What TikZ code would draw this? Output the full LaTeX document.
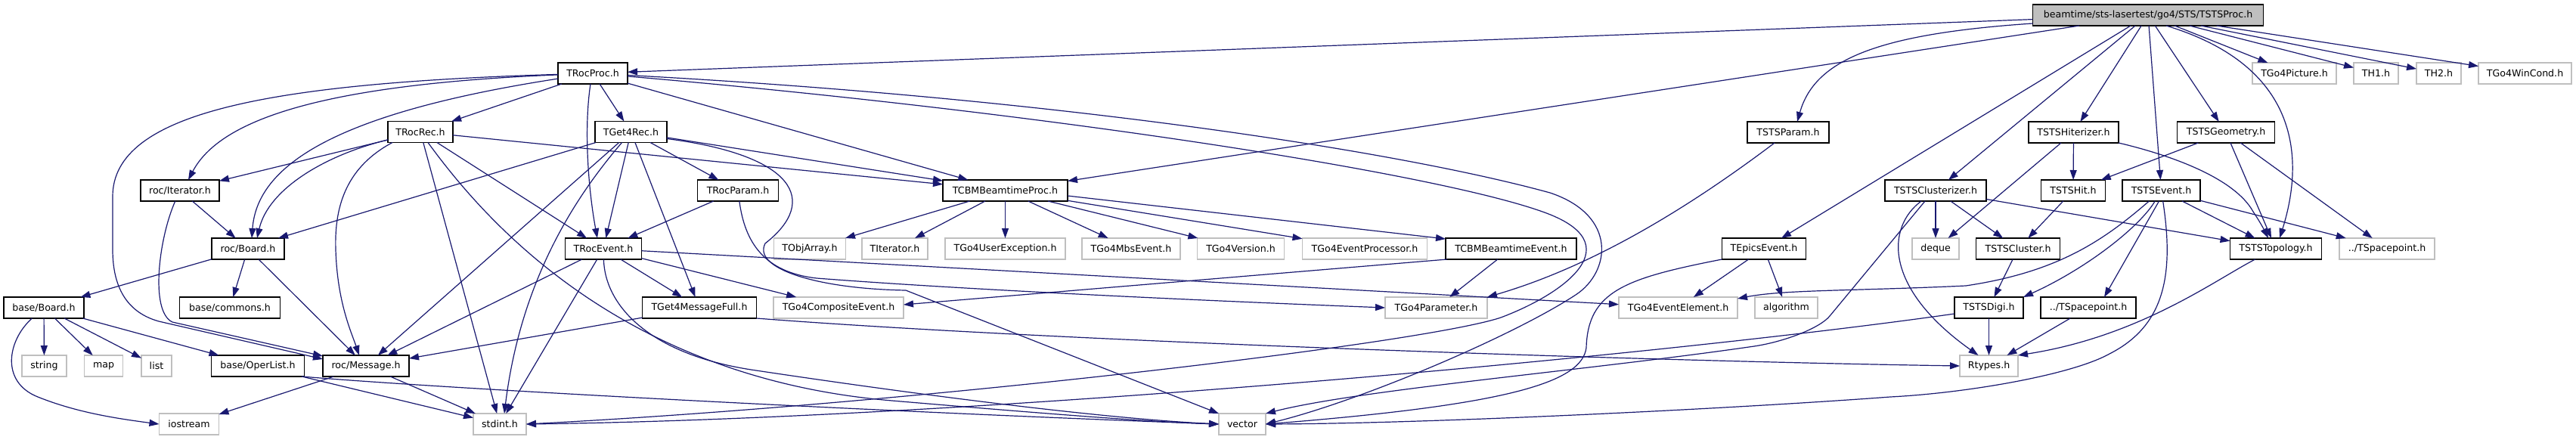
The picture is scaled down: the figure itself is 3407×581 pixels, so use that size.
\documentclass[tikz,border=0pt]{standalone}
\usepackage{fontspec}
\setmainfont{DejaVu Sans}
\usetikzlibrary{arrows.meta}
\definecolor{edgec}{RGB}{25,25,112}
\definecolor{graybd}{RGB}{191,191,191}
\begin{document}
\begin{tikzpicture}[x=1pt,y=-1pt,
  box/.style={draw=black,line width=1.2pt,fill=white,minimum height=28pt,inner sep=0pt,outer sep=0pt,font=\fontsize{12.6}{15}\selectfont},
  ext/.style={box,draw=graybd},
  dep/.style={draw=edgec,line width=1.2pt,-{Triangle[length=13pt,width=9pt]}},
]
\fill[white] (0,0) rectangle (3407,581);
\useasboundingbox (0,0) rectangle (3407,581);

% ---------- nodes ----------
\node[box,fill=graybd,minimum width=305pt] (root) at (2841,20) {beamtime/sts-lasertest/go4/STS/TSTSProc.h};
\node[box,minimum width=92pt] (rocproc) at (784,97) {TRocProc.h};
\node[ext,minimum width=111pt] (picture) at (3034.5,97) {TGo4Picture.h};
\node[ext,minimum width=59pt] (th1) at (3142.5,97) {TH1.h};
\node[ext,minimum width=59pt] (th2) at (3225.5,97) {TH2.h};
\node[ext,minimum width=123pt] (wincond) at (3339.5,97) {TGo4WinCond.h};
\node[box,minimum width=86pt] (rocrec) at (556,174.5) {TRocRec.h};
\node[box,minimum width=95pt] (get4rec) at (834.5,174.5) {TGet4Rec.h};
\node[box,minimum width=108pt] (stsparam) at (2365,175) {TSTSParam.h};
\node[box,minimum width=119pt] (hiterizer) at (2742.5,175) {TSTSHiterizer.h};
\node[box,minimum width=129pt] (geometry) at (2944,175) {TSTSGeometry.h};
\node[box,minimum width=104pt] (iterator) at (238,252) {roc/Iterator.h};
\node[box,minimum width=107pt] (rocparam) at (976,252) {TRocParam.h};
\node[box,minimum width=165pt] (cbmproc) at (1329.5,252) {TCBMBeamtimeProc.h};
\node[box,minimum width=134pt] (clusterizer) at (2560,252) {TSTSClusterizer.h};
\node[box,minimum width=85pt] (stshit) at (2742,252) {TSTSHit.h};
\node[box,minimum width=103pt] (stsevent) at (2858.5,252) {TSTSEvent.h};
\node[box,minimum width=96pt] (rocboard) at (328,329) {roc/Board.h};
\node[box,minimum width=101pt] (rocevent) at (798,329) {TRocEvent.h};
\node[ext,minimum width=95pt] (objarray) at (1071,329) {TObjArray.h};
\node[ext,minimum width=87pt] (titerator) at (1183.5,329) {TIterator.h};
\node[ext,minimum width=159pt] (userexc) at (1329.5,329) {TGo4UserException.h};
\node[ext,minimum width=130pt] (mbsevent) at (1496,329) {TGo4MbsEvent.h};
\node[ext,minimum width=115pt] (version) at (1641,329) {TGo4Version.h};
\node[ext,minimum width=165pt] (evproc) at (1805,329) {TGo4EventProcessor.h};
\node[box,minimum width=173pt] (cbmevent) at (1998.5,329) {TCBMBeamtimeEvent.h};
\node[box,minimum width=111pt] (epics) at (2333,329) {TEpicsEvent.h};
\node[ext,minimum width=62pt] (deque) at (2560,329) {deque};
\node[box,minimum width=111pt] (stscluster) at (2669,329) {TSTSCluster.h};
\node[box,minimum width=121pt] (topology) at (3010,329) {TSTSTopology.h};
\node[ext,minimum width=126pt] (spacegray) at (3157,329) {../TSpacepoint.h};
\node[box,minimum width=106pt] (baseboard) at (58,407) {base/Board.h};
\node[box,minimum width=133pt] (commons) at (304,407) {base/commons.h};
\node[box,minimum width=151pt] (msgfull) at (925,407) {TGet4MessageFull.h};
\node[ext,minimum width=172pt] (composite) at (1109,407) {TGo4CompositeEvent.h};
\node[ext,minimum width=135pt] (parameter) at (1899.5,407) {TGo4Parameter.h};
\node[ext,minimum width=157pt] (evelement) at (2219.5,407) {TGo4EventElement.h};
\node[ext,minimum width=83pt] (algorithm) at (2362.5,407) {algorithm};
\node[box,minimum width=91pt] (stsdigi) at (2630.5,407) {TSTSDigi.h};
\node[box,minimum width=126pt] (spaceblack) at (2762,407) {../TSpacepoint.h};
\node[ext,minimum width=59pt] (string) at (58.5,484) {string};
\node[ext,minimum width=51pt] (map) at (137,484) {map};
\node[ext,minimum width=40pt] (list) at (207,484) {list};
\node[box,minimum width=123pt] (operlist) at (341,484) {base/OperList.h};
\node[box,minimum width=114pt] (message) at (484,484) {roc/Message.h};
\node[ext,minimum width=77pt] (rtypes) at (2630.5,484) {Rtypes.h};
\node[ext,minimum width=79pt] (iostream) at (250,561) {iostream};
\node[ext,minimum width=70pt] (stdint) at (661,561) {stdint.h};
\node[ext,minimum width=62pt] (vector) at (1643,561) {vector};

% ---------- root ----------
\draw[dep] (root) -- (rocproc);
\draw[dep] (root) -- (cbmproc);
\draw[dep] ([yshift=-11pt]root.west) .. controls (2480,45) and (2400,80) .. ([xshift=12pt]stsparam.north);
\draw[dep] (root) -- (epics);
\draw[dep] (root) -- (clusterizer);
\draw[dep] (root) -- (hiterizer);
\draw[dep] (root) -- (stsevent);
\draw[dep] (root) -- (geometry);
\draw[dep] ([xshift=24pt]root.south) .. controls (3050,90) and (3045,220) .. ([xshift=5pt]topology.north);
\draw[dep] (root) -- (picture);
\draw[dep] (root) -- (th1);
\draw[dep] (root) -- (th2);
\draw[dep] (root) -- (wincond);

% ---------- TRocProc ----------
\draw[dep] (rocproc) .. controls (350,110) and (149,150) .. (149,260) -- (149,330) .. controls (149,392) and (178,416) .. (210,425) -- ([yshift=-5pt]message.north west);
\draw[dep] (rocproc) .. controls (420,112) and (290,160) .. ([xshift=11pt]iterator.north);
\draw[dep] (rocproc) .. controls (440,150) and (340,220) .. ([xshift=5pt]rocboard.north);
\draw[dep] (rocproc) -- (rocrec);
\draw[dep] ([xshift=-3pt]rocproc.south) .. controls (772,170) and (778,250) .. ([xshift=-8pt]rocevent.north);
\draw[dep] (rocproc) -- (get4rec);
\draw[dep] (rocproc) -- (cbmproc);
\draw[dep] (rocproc) .. controls (1400,150) and (1900,230) .. (2040,280) .. controls (2160,322) and (2070,388) .. (1985,420) .. controls (1880,455) and (1200,535) .. (stdint.east);
\draw[dep] (rocproc) .. controls (1400,130) and (1850,200) .. (2050,255) .. controls (2140,285) and (2130,360) .. (2084,390) .. controls (2000,445) and (1800,530) .. (vector.east);

% ---------- TRocRec ----------
\draw[dep] (rocrec) -- (iterator);
\draw[dep] (rocrec) .. controls (430,205) and (355,250) .. ([xshift=12pt]rocboard.north);
\draw[dep] ([xshift=-37pt]rocrec.south) .. controls (460,220) and (442,270) .. (444,330) .. controls (446,400) and (465,440) .. ([xshift=-9pt]message.north);
\draw[dep] (rocrec) -- (stdint);
\draw[dep] (rocrec) -- (rocevent);
\draw[dep] ([xshift=10pt]rocrec.south) .. controls (640,290) and (820,500) .. (1180,530) .. controls (1380,547) and (1520,558) .. (vector.west);
\draw[dep] (rocrec) -- (cbmproc);

% ---------- TGet4Rec ----------
\draw[dep] (get4rec) -- ([xshift=40pt]rocboard.north);
\draw[dep] (get4rec) -- (message);
\draw[dep] (get4rec) .. controls (770,250) and (690,360) .. ([xshift=6pt]stdint.north);
\draw[dep] (get4rec) -- (rocevent);
\draw[dep] (get4rec) -- (msgfull);
\draw[dep] (get4rec) -- (rocparam);
\draw[dep] (get4rec) -- (cbmproc);
\draw[dep] ([yshift=-9pt]get4rec.east) .. controls (1050,205) and (1085,265) .. (1012,322) .. controls (995,355) and (1080,382) .. (1198,384) -- (vector.north west);

% ---------- TRocParam ----------
\draw[dep] (rocparam) -- (rocevent);
\draw[dep] (rocparam) .. controls (985,320) and (1010,360) .. (1080,368) .. controls (1300,385) and (1650,400) .. (parameter.west);

% ---------- roc/Board, roc/Iterator ----------
\draw[dep] (rocboard) -- (baseboard);
\draw[dep] (rocboard) -- (commons);
\draw[dep] (rocboard) -- (message);
\draw[dep] (iterator) -- (rocboard);
\draw[dep] (iterator) .. controls (210,315) and (198,412) .. (228,426) -- ([yshift=-1pt]message.north west);

% ---------- base/Board ----------
\draw[dep] (baseboard) -- (string);
\draw[dep] (baseboard) -- (map);
\draw[dep] (baseboard) -- (list);
\draw[dep] (baseboard) -- (operlist);
\draw[dep] (baseboard) .. controls (10,450) and (0,505) .. (50,525) .. controls (100,545) and (150,553) .. (iostream.west);

% ---------- roc/Message, base/OperList ----------
\draw[dep] (message) -- (iostream);
\draw[dep] (message) -- (stdint);
\draw[dep] (operlist) -- (stdint);
\draw[dep] ([xshift=-3pt]operlist.south east) .. controls (560,512) and (1100,542) .. (vector.west);

% ---------- TRocEvent ----------
\draw[dep] (rocevent) -- (message);
\draw[dep] (rocevent) -- (stdint);
\draw[dep] (rocevent) .. controls (800,405) and (860,470) .. (1000,490) .. controls (1200,520) and (1450,553) .. (vector.west);
\draw[dep] (rocevent) -- (msgfull);
\draw[dep] (rocevent) -- (composite);
\draw[dep] (rocevent) -- (evelement);

% ---------- TGet4MessageFull ----------
\draw[dep] (msgfull) -- (message);
\draw[dep] (msgfull.south east) .. controls (1400,452) and (2200,478) .. (rtypes.west);

% ---------- TCBMBeamtimeProc ----------
\draw[dep] (cbmproc) -- (objarray);
\draw[dep] (cbmproc) -- (titerator);
\draw[dep] (cbmproc) -- (userexc);
\draw[dep] (cbmproc) -- (mbsevent);
\draw[dep] (cbmproc) -- (version);
\draw[dep] (cbmproc) -- (evproc);
\draw[dep] ([yshift=-7pt]cbmproc.east) -- ([yshift=13pt]cbmevent.west);

% ---------- TCBMBeamtimeEvent, TSTSParam ----------
\draw[dep] ([xshift=2pt]cbmevent.south west) -- ([yshift=4pt]composite.east);
\draw[dep] (cbmevent) -- (parameter);
\draw[dep] ([xshift=-18pt]stsparam.south) .. controls (2200,300) and (2080,360) .. (parameter.north east);

% ---------- TEpicsEvent ----------
\draw[dep] (epics) -- (evelement);
\draw[dep] (epics) -- (algorithm);
\draw[dep] (epics.south west) .. controls (2150,368) and (2100,385) .. (2098,460) .. controls (2092,505) and (2000,535) .. (vector.east);

% ---------- TSTSClusterizer ----------
\draw[dep] (clusterizer) -- (deque);
\draw[dep] (clusterizer) -- (stscluster);
\draw[dep] (clusterizer) -- (topology);
\draw[dep] (clusterizer) .. controls (2495,300) and (2490,380) .. ([xshift=-14pt]rtypes.north);
\draw[dep] ([xshift=-14pt]clusterizer.south) -- (2420,418) .. controls (2407,434) and (2360,452) .. (2320,458) .. controls (2100,490) and (1800,515) .. (vector.north east);

% ---------- TSTSHiterizer, TSTSHit, TSTSGeometry ----------
\draw[dep] (hiterizer) -- (stshit);
\draw[dep] (hiterizer) -- (deque);
\draw[dep] (hiterizer.south east) .. controls (2870,205) and (2955,235) .. (2980,280) .. controls (2990,295) and (2995,305) .. ([xshift=-10pt]topology.north);
\draw[dep] (stshit) -- (stscluster);
\draw[dep] (geometry) -- (stshit);
\draw[dep] (geometry) -- (topology);
\draw[dep] (geometry) -- (spacegray);

% ---------- TSTSEvent ----------
\draw[dep] (stsevent) .. controls (2780,320) and (2720,360) .. (2600,378) .. controls (2450,385) and (2360,383) .. ([yshift=12pt]evelement.east);
\draw[dep] (stsevent) .. controls (2830,300) and (2760,355) .. (stsdigi.north east);
\draw[dep] ([xshift=-3pt]stsevent.south) -- ([xshift=21pt]spaceblack.north);
\draw[dep] (stsevent) .. controls (2875,360) and (2865,430) .. (2790,468) .. controls (2740,496) and (2600,520) .. (2500,525) .. controls (2300,540) and (1900,560) .. (vector.east);
\draw[dep] (stsevent) -- (topology);
\draw[dep] (stsevent) -- (spacegray);

% ---------- lower STS ----------
\draw[dep] (stscluster) -- (stsdigi);
\draw[dep] (stsdigi) -- (rtypes);
\draw[dep] ([yshift=-8pt]stsdigi.west) .. controls (2200,470) and (1300,553) .. (stdint.east);
\draw[dep] (spaceblack) -- (rtypes);
\draw[dep] (topology) .. controls (2930,370) and (2830,445) .. (rtypes.north east);
\end{tikzpicture}
\end{document}
